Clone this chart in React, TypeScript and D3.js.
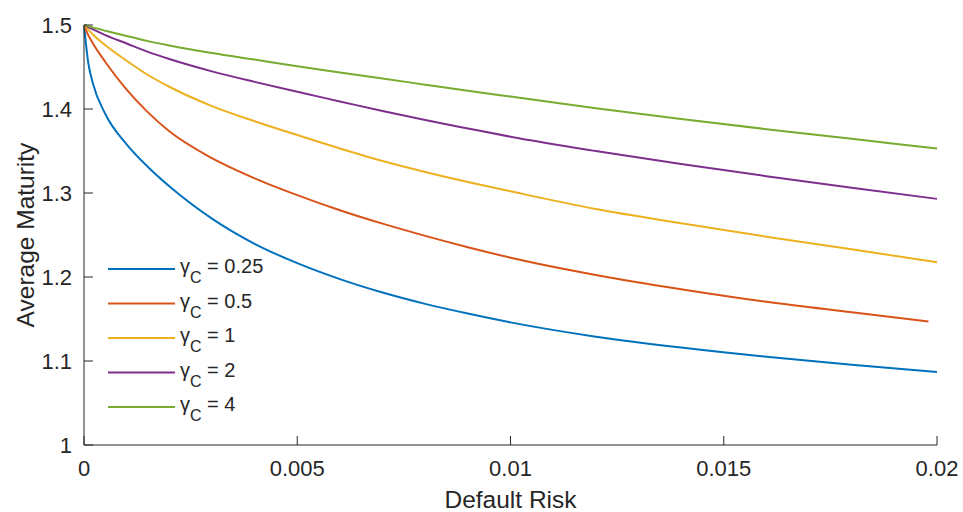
import React from "react";
import * as d3 from "d3";

const xVals = [0, 0.0001, 0.0002, 0.0005, 0.001, 0.0015, 0.002, 0.003, 0.004, 0.005, 0.006, 0.007, 0.008, 0.009, 0.01, 0.012, 0.014, 0.016, 0.018, 0.02];
const xValsShort = [0, 0.0001, 0.0002, 0.0005, 0.001, 0.0015, 0.002, 0.003, 0.004, 0.005, 0.006, 0.007, 0.008, 0.009, 0.01, 0.012, 0.014, 0.016, 0.018, 0.0198];

const gamma025 = [1.5, 1.455, 1.432, 1.394, 1.358, 1.331, 1.308, 1.2695, 1.2395, 1.2165, 1.1975, 1.1815, 1.168, 1.1565, 1.146, 1.129, 1.116, 1.105, 1.0955, 1.087];
const gamma05 = [1.5, 1.488, 1.479, 1.456, 1.423, 1.396, 1.3735, 1.3415, 1.3175, 1.2975, 1.2795, 1.2635, 1.249, 1.2355, 1.223, 1.2025, 1.1855, 1.1705, 1.158, 1.147];
const gamma1 = [1.5, 1.4945, 1.489, 1.476, 1.4575, 1.4405, 1.4265, 1.4035, 1.3855, 1.369, 1.353, 1.338, 1.325, 1.313, 1.302, 1.281, 1.264, 1.248, 1.233, 1.2175];
const gamma2 = [1.5, 1.4975, 1.495, 1.488, 1.478, 1.468, 1.4595, 1.4448, 1.4323, 1.4205, 1.409, 1.3975, 1.3868, 1.3768, 1.367, 1.35, 1.3345, 1.32, 1.3062, 1.293];
const gamma4 = [1.5, 1.4986, 1.4972, 1.4932, 1.4868, 1.4808, 1.4756, 1.4666, 1.4588, 1.451, 1.4435, 1.4362, 1.429, 1.4218, 1.4148, 1.401, 1.388, 1.376, 1.3645, 1.353];

const legendLabels = ["0.25", "0.5", "1", "2", "4"];
const xTicks = [0, 0.005, 0.01, 0.015, 0.02];
const xTickLabels = ["0", "0.005", "0.01", "0.015", "0.02"];
const yTicks = [1, 1.1, 1.2, 1.3, 1.4, 1.5];
const yTickLabels = ["1", "1.1", "1.2", "1.3", "1.4", "1.5"];

const colors = ["#0072BD", "#D95319", "#EDB120", "#7E2F8E", "#77AC30"];

const series = [
  { xs: xVals, ys: gamma025 },
  { xs: xValsShort, ys: gamma05 },
  { xs: xVals, ys: gamma1 },
  { xs: xVals, ys: gamma2 },
  { xs: xVals, ys: gamma4 },
];

export default function App() {
  const W = 963, H = 512;
  const left = 84, right = 937, top = 25, bottom = 445;
  const x = d3.scaleLinear().domain([0, 0.02]).range([left, right]);
  const y = d3.scaleLinear().domain([1, 1.5]).range([bottom, top]);
  const line = d3.line<[number, number]>().x(d => x(d[0])).y(d => y(d[1])).curve(d3.curveMonotoneX);
  const axisColor = "#262626";
  const font = "'Liberation Sans', Arial, Helvetica, sans-serif";

  return (
    <svg width={W} height={H} style={{ position: "absolute", left: 0, top: 0, background: "#fff" }} fontFamily={font}>
      {series.map((s, i) => (
        <path key={i} d={line(s.xs.map((v, j) => [v, s.ys[j]] as [number, number])) || ""} fill="none" stroke={colors[i]} strokeWidth={2} />
      ))}
      <line x1={left} x2={left} y1={top} y2={bottom} stroke={axisColor} strokeWidth={1} />
      <line x1={left} x2={right} y1={bottom} y2={bottom} stroke={axisColor} strokeWidth={1} />
      {xTicks.map((t, i) => (
        <g key={"xt" + i}>
          <line x1={x(t)} x2={x(t)} y1={bottom} y2={bottom - 9} stroke={axisColor} />
          <text x={x(t)} y={bottom + 31} textAnchor="middle" fontSize={22} fill={axisColor}>{xTickLabels[i]}</text>
        </g>
      ))}
      {yTicks.map((t, i) => (
        <g key={"yt" + i}>
          <line x1={left} x2={left + 9} y1={y(t)} y2={y(t)} stroke={axisColor} />
          <text x={left - 12} y={y(t) + 8} textAnchor="end" fontSize={22} fill={axisColor}>{yTickLabels[i]}</text>
        </g>
      ))}
      <text x={(left + right) / 2} y={508} textAnchor="middle" fontSize={24.5} fill={axisColor}>Default Risk</text>
      <text transform={`translate(34,${(top + bottom) / 2}) rotate(-90)`} textAnchor="middle" fontSize={24.5} fill={axisColor}>Average Maturity</text>
      {legendLabels.map((lab, i) => {
        const ly = 269 + i * 34.5;
        return (
          <g key={"lg" + i}>
            <line x1={108} x2={175} y1={ly} y2={ly} stroke={colors[i]} strokeWidth={2} />
            <text x={180} y={ly + 4} fontSize={20} fill={axisColor}>
              <tspan>γ</tspan>
              <tspan fontSize={16} dy={10}>C</tspan>
              <tspan dy={-10}>{" = " + lab}</tspan>
            </text>
          </g>
        );
      })}
    </svg>
  );
}
